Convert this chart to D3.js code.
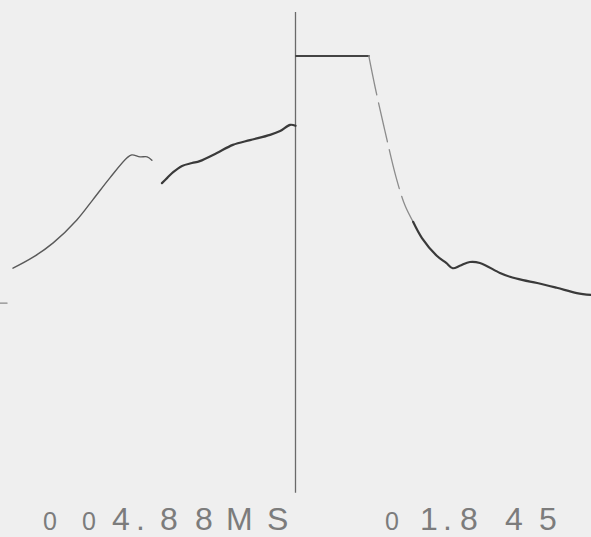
<!DOCTYPE html>
<html>
<head>
<meta charset="utf-8">
<script src="https://cdn.jsdelivr.net/npm/d3@7"></script>
<style>
  html, body { margin: 0; padding: 0; background: #efefef; }
  svg { display: block; }
</style>
</head>
<body>
<div id="trace-div"></div>
<script>
// Constants for the chart
const CHART_WIDTH = 591;
const CHART_HEIGHT = 537;
const PLOT = { left: 0, right: 591, top: 12, bottom: 490 };

// time in ms (trigger at 0), value in % of screen height
const preTimeA = [-4.78, -4.44, -4.10, -3.70, -3.43, -3.14, -2.85, -2.77, -2.63, -2.51, -2.43];
const preValueA = [46.4, 48.7, 51.7, 56.5, 60.7, 65.3, 69.5, 70.1, 69.7, 69.7, 69.0];

const preTimeB = [-2.26, -2.17, -2.07, -1.92, -1.75, -1.62, -1.33, -1.06, -0.77, -0.43, -0.26, -0.09, 0.0];
const preValueB = [64.2, 65.3, 66.5, 67.8, 68.4, 68.8, 70.5, 72.2, 73.2, 74.3, 75.1, 76.4, 76.2];

const holdTime = [0.01, 1.24];
const holdValue = [90.8, 90.8];

const fallTime = [1.24, 1.35, 1.51, 1.70, 1.85, 1.99];
const fallValue = [90.8, 84.1, 75.3, 65.5, 59.6, 56.1];

const tailTime = [1.99, 2.14, 2.39, 2.55, 2.66, 2.78, 2.95, 3.12, 3.46, 3.63, 3.85, 4.09, 4.42, 4.76, 5.0];
const tailValue = [56.1, 52.7, 49.0, 47.5, 46.4, 46.9, 47.7, 47.5, 45.4, 44.6, 43.9, 43.3, 42.3, 41.2, 40.8];

const markerTime = [-5.0, -4.88];
const markerValue = [39.1, 39.1];

const leftLabel = ["0", "0", "4", ".", "8", "8", "M", "S"];
const rightLabel = ["0", "1", ".", "8", "4", "5"];

// character positions of the readouts (layout only)
const leftLabelX = [43, 82, 112, 136, 160, 195, 226, 267];
const rightLabelX = [385, 420, 443, 460, 505, 539];

const svg = d3.select("#trace-div").append("svg")
  .attr("width", CHART_WIDTH)
  .attr("height", CHART_HEIGHT);

svg.append("rect")
  .attr("width", CHART_WIDTH)
  .attr("height", CHART_HEIGHT)
  .attr("fill", "#efefef");

const xscale = d3.scaleLinear().domain([-5, 5]).range([PLOT.left, PLOT.right]);
const yscale = d3.scaleLinear().domain([0, 100]).range([PLOT.bottom, PLOT.top]);

const line = d3.line()
  .x((d) => xscale(d[0]))
  .y((d) => yscale(d[1]))
  .curve(d3.curveCatmullRom.alpha(0.5));

function drawTrace(times, values, color, width, dash) {
  const pts = times.map((t, i) => [t, values[i]]);
  const path = svg.append("path")
    .datum(pts)
    .attr("d", line)
    .attr("fill", "none")
    .attr("stroke", color)
    .attr("stroke-width", width)
    .attr("stroke-linecap", "round")
    .attr("stroke-linejoin", "round");
  if (dash) path.attr("stroke-dasharray", dash);
}

// trigger line
svg.append("line")
  .attr("x1", xscale(0))
  .attr("x2", xscale(0))
  .attr("y1", yscale(100))
  .attr("y2", yscale(-0.6))
  .attr("stroke", "#6a6a6a")
  .attr("stroke-width", 1.3);

drawTrace(markerTime, markerValue, "#8a8a8a", 1.2);
drawTrace(preTimeA, preValueA, "#5a5a5a", 1.4);
drawTrace(preTimeB, preValueB, "#3a3a3a", 2.2);
drawTrace(holdTime, holdValue, "#444", 2.2);
drawTrace(fallTime, fallValue, "#8c8c8c", 1.3, "40 8");
drawTrace(tailTime, tailValue, "#3a3a3a", 2.2);

// readout labels
function drawLabel(chars, xs) {
  const text = svg.append("text")
    .attr("y", 530)
    .attr("font-family", "'Liberation Sans', Arial, sans-serif")
    .attr("fill", "#7c7c7c");
  chars.forEach((c, i) => {
    text.append("tspan")
      .attr("x", xs[i])
      .attr("font-size", c === "0" ? 25 : 32)
      .text(c);
  });
}

drawLabel(leftLabel, leftLabelX);
drawLabel(rightLabel, rightLabelX);
</script>
</body>
</html>
